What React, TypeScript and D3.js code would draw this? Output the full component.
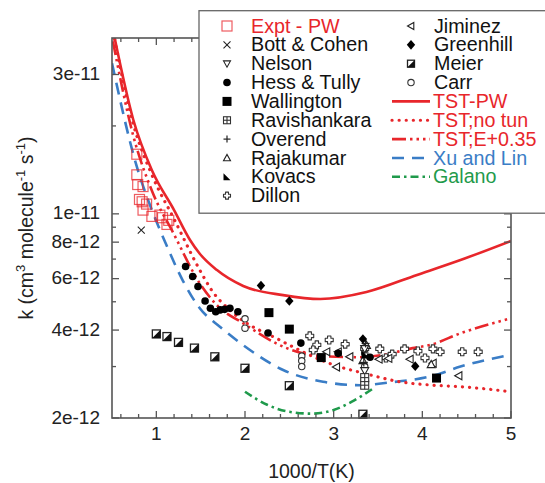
import React from 'react';
import * as d3 from 'd3';

const W = 545, H = 483;
const X0 = 112, X1 = 511, Y0 = 38, Y1 = 418;
const RED = '#e8262b';
const BLUE = '#3a7dc6';
const GREEN = '#1f9a4b';
const FONT = '"Liberation Sans", Arial, Helvetica, sans-serif';

// k values in units of 1e-12 cm3 molecule-1 s-1
const exptX = [0.78, 0.78, 0.79, 0.85, 0.81, 0.84, 0.89, 0.85, 0.95, 1.04, 1.07, 1.14, 1.12];
const exptK = [16.0, 13.6, 12.6, 12.4, 11.2, 11.0, 10.8, 10.3, 9.8, 9.9, 9.7, 9.5, 9.2];
const bottX = [0.83];
const bottK = [8.8];
const nelsonX = [3.35, 3.35];
const nelsonK = [3.45, 2.9];
const hessX = [1.33, 1.41, 1.47, 1.55, 1.61, 1.67, 1.72, 1.77, 1.83, 1.92, 2.26, 2.63, 3.05, 3.41];
const hessK = [6.6, 6.1, 5.64, 5.03, 4.75, 4.62, 4.69, 4.71, 4.75, 4.62, 3.91, 3.61, 3.33, 3.23];
const wallX = [2.27, 2.5, 2.86, 4.16];
const wallK = [4.59, 4.03, 3.22, 2.74];
const raviX = [3.35, 3.35];
const raviK = [2.59, 2.75];
const overX = [3.36, 3.34];
const overK = [3.6, 3.1];
const rajaX = [3.33, 3.37, 4.1];
const rajaK = [3.15, 3.55, 3.05];
const kovX = [3.36];
const kovK = [3.3];
const dillonX = [2.73, 2.81, 2.77, 2.95, 3.13, 3.35, 3.52, 3.59, 3.66, 3.8, 3.95, 4.03, 4.12, 4.2, 4.45, 4.63];
const dillonK = [3.82, 3.56, 3.42, 3.7, 3.58, 3.45, 3.45, 3.21, 3.31, 3.45, 3.39, 3.21, 3.45, 3.37, 3.37, 3.37];
const jimX = [2.92, 3.05, 3.18, 3.03, 3.51, 3.62, 3.86, 4.12, 4.41];
const jimK = [3.37, 3.37, 3.24, 2.99, 3.18, 3.2, 3.18, 3.08, 2.79];
const greenX = [2.18, 2.5, 3.33, 3.92];
const greenK = [5.68, 5.03, 3.73, 3.01];
const meierX = [1.0, 1.12, 1.25, 1.43, 1.66, 2.0, 2.5, 3.33];
const meierK = [3.88, 3.8, 3.63, 3.47, 3.24, 2.96, 2.58, 2.06];
const carrX = [2.0, 2.0, 2.64, 2.64, 2.64, 3.35, 3.35, 3.35, 3.35];
const carrK = [4.37, 4.06, 3.26, 3.14, 3.0, 3.34, 3.0, 2.77, 2.64];

// model curves
const tstX = [0.53, 0.74, 0.95, 1.2, 1.38, 1.49, 1.68, 1.98, 2.43, 2.85, 3.37, 3.94, 4.43, 5.0];
const tstK = [40, 21, 14.1, 10.3, 8.14, 7.3, 6.43, 5.66, 5.27, 5.11, 5.4, 6.18, 6.95, 8.08];
const notunX = [0.53, 0.74, 0.95, 1.2, 1.51, 1.62, 1.87, 2.39, 3.0, 3.37, 3.75, 4.12, 4.43, 5.0];
const notunK = [39.5, 20.3, 13.6, 9.6, 6.26, 5.5, 4.57, 3.7, 3.04, 2.83, 2.66, 2.59, 2.56, 2.46];
const e035X = [0.51, 0.74, 0.95, 1.2, 1.49, 1.68, 1.98, 2.47, 2.85, 3.3, 3.56, 3.89, 4.09, 4.43, 5.0];
const e035K = [39, 18.5, 12.0, 8.5, 5.78, 4.88, 4.22, 3.47, 3.26, 3.23, 3.29, 3.47, 3.56, 3.9, 4.39];
const xuX = [0.5, 0.78, 0.95, 1.1, 1.3, 1.49, 1.72, 1.98, 2.43, 2.88, 3.3, 3.6, 4.12, 4.43, 5.0];
const xuK = [32.8, 14.5, 10.3, 8.0, 5.9, 4.75, 4.1, 3.55, 2.92, 2.66, 2.59, 2.64, 2.79, 3.0, 3.29];
const galX = [2.0, 2.25, 2.5, 2.75, 3.0, 3.2, 3.45];
const galK = [2.46, 2.22, 2.1, 2.07, 2.13, 2.27, 2.53];

const xTicks = [1, 2, 3, 4, 5];
const xTickLabels = ['1', '2', '3', '4', '5'];
const yTicks = [2, 4, 6, 8, 10, 30];
const yTickLabels = ['2e-12', '4e-12', '6e-12', '8e-12', '1e-11', '3e-11'];
const yMinor = [3, 5, 7, 9, 20];

const x = d3.scaleLinear().domain([0.5, 5]).range([X0, X1]);
const y = d3.scaleLog().domain([2, 40]).range([Y1, Y0]);

type MType = 'expt' | 'x' | 'tdown' | 'circle' | 'square' | 'sqplus' | 'plus' | 'tup' | 'kovacs' | 'dillon' | 'tleft' | 'diamond' | 'meier' | 'ocircle';

function marker(type: MType, cx: number, cy: number, key: string, s = 8) {
  const h = s / 2;
  const sw = 1.1;
  switch (type) {
    case 'expt':
      return <rect key={key} x={cx - 5} y={cy - 5} width={10} height={10} fill="none" stroke={RED} strokeOpacity={0.75} strokeWidth={1.2} />;
    case 'x':
      return <g key={key} stroke="#222" strokeWidth={1.1}>
        <line x1={cx - 3.5} y1={cy - 3.5} x2={cx + 3.5} y2={cy + 3.5} />
        <line x1={cx - 3.5} y1={cy + 3.5} x2={cx + 3.5} y2={cy - 3.5} />
      </g>;
    case 'tdown':
      return <polygon key={key} points={`${cx - h},${cy - h * 0.8} ${cx + h},${cy - h * 0.8} ${cx},${cy + h}`} fill="#fff" stroke="#222" strokeWidth={sw} />;
    case 'tup':
      return <polygon key={key} points={`${cx - h},${cy + h * 0.8} ${cx + h},${cy + h * 0.8} ${cx},${cy - h}`} fill="#fff" stroke="#222" strokeWidth={sw} />;
    case 'tleft':
      return <polygon key={key} points={`${cx + h * 0.8},${cy - h} ${cx + h * 0.8},${cy + h} ${cx - h},${cy}`} fill="#fff" stroke="#222" strokeWidth={sw} />;
    case 'circle':
      return <circle key={key} cx={cx} cy={cy} r={3.8} fill="#000" />;
    case 'ocircle':
      return <circle key={key} cx={cx} cy={cy} r={3.2} fill="#fff" stroke="#333" strokeWidth={sw} />;
    case 'square':
      return <rect key={key} x={cx - 4.5} y={cy - 4.5} width={9} height={9} fill="#000" />;
    case 'sqplus':
      return <g key={key} stroke="#333" strokeWidth={sw} fill="#fff">
        <rect x={cx - h} y={cy - h} width={s} height={s} />
        <line x1={cx - h} y1={cy} x2={cx + h} y2={cy} />
        <line x1={cx} y1={cy - h} x2={cx} y2={cy + h} />
      </g>;
    case 'plus':
      return <g key={key} stroke="#222" strokeWidth={1.2}>
        <line x1={cx - h} y1={cy} x2={cx + h} y2={cy} />
        <line x1={cx} y1={cy - h} x2={cx} y2={cy + h} />
      </g>;
    case 'kovacs':
      return <polygon key={key} points={`${cx - h},${cy - h} ${cx - h},${cy + h} ${cx + h},${cy + h}`} fill="#000" />;
    case 'dillon': {
      const a = h * 0.42;
      const pts = [
        [-a, -h], [a, -h], [a, -a], [h, -a], [h, a], [a, a], [a, h], [-a, h], [-a, a], [-h, a], [-h, -a], [-a, -a],
      ].map(p => `${cx + p[0]},${cy + p[1]}`).join(' ');
      return <polygon key={key} points={pts} fill="#fff" stroke="#333" strokeWidth={sw} strokeLinejoin="round" />;
    }
    case 'diamond':
      return <polygon key={key} points={`${cx},${cy - 4.8} ${cx + 4.2},${cy} ${cx},${cy + 4.8} ${cx - 4.2},${cy}`} fill="#000" />;
    case 'meier':
      return <g key={key}>
        <rect x={cx - h} y={cy - h} width={s} height={s} fill="#fff" stroke="#222" strokeWidth={1.3} />
        <polygon points={`${cx + h},${cy - h} ${cx + h},${cy + h} ${cx - h},${cy + h}`} fill="#111" />
      </g>;
  }
  return null;
}

const pointSets: { name: string; type: MType; xs: number[]; ks: number[] }[] = [
  { name: 'meier', type: 'meier', xs: meierX, ks: meierK },
  { name: 'carr', type: 'ocircle', xs: carrX, ks: carrK },
  { name: 'dillon', type: 'dillon', xs: dillonX, ks: dillonK },
  { name: 'jim', type: 'tleft', xs: jimX, ks: jimK },
  { name: 'raja', type: 'tup', xs: rajaX, ks: rajaK },
  { name: 'nelson', type: 'tdown', xs: nelsonX, ks: nelsonK },
  { name: 'over', type: 'plus', xs: overX, ks: overK },
  { name: 'ravi', type: 'sqplus', xs: raviX, ks: raviK },
  { name: 'kov', type: 'kovacs', xs: kovX, ks: kovK },
  { name: 'hess', type: 'circle', xs: hessX, ks: hessK },
  { name: 'wall', type: 'square', xs: wallX, ks: wallK },
  { name: 'green', type: 'diamond', xs: greenX, ks: greenK },
  { name: 'bott', type: 'x', xs: bottX, ks: bottK },
  { name: 'expt', type: 'expt', xs: exptX, ks: exptK },
];

const lineGen = d3.line<[number, number]>()
  .x(d => x(d[0]))
  .y(d => y(d[1]))
  .curve(d3.curveMonotoneX);

const curves = [
  { name: 'xu', xs: xuX, ks: xuK, color: BLUE, dash: '12,8', w: 2.6, cap: 'butt' },
  { name: 'gal', xs: galX, ks: galK, color: GREEN, dash: '8,4,2.5,4', w: 2.6, cap: 'butt' },
  { name: 'notun', xs: notunX, ks: notunK, color: RED, dash: '0.1,7', w: 3.2, cap: 'round' },
  { name: 'e035', xs: e035X, ks: e035K, color: RED, dash: '14,4,2.5,4,2.5,4,2.5,4', w: 2.6, cap: 'butt' },
  { name: 'tst', xs: tstX, ks: tstK, color: RED, dash: 'none', w: 2.6, cap: 'butt' },
];

const legendCol1: { label: string; type: MType; color: string }[] = [
  { label: 'Expt - PW', type: 'expt', color: RED },
  { label: 'Bott & Cohen', type: 'x', color: '#111' },
  { label: 'Nelson', type: 'tdown', color: '#111' },
  { label: 'Hess & Tully', type: 'circle', color: '#111' },
  { label: 'Wallington', type: 'square', color: '#111' },
  { label: 'Ravishankara', type: 'sqplus', color: '#111' },
  { label: 'Overend', type: 'plus', color: '#111' },
  { label: 'Rajakumar', type: 'tup', color: '#111' },
  { label: 'Kovacs', type: 'kovacs', color: '#111' },
  { label: 'Dillon', type: 'dillon', color: '#111' },
];
const legendCol2Markers: { label: string; type: MType }[] = [
  { label: 'Jiminez', type: 'tleft' },
  { label: 'Greenhill', type: 'diamond' },
  { label: 'Meier', type: 'meier' },
  { label: 'Carr', type: 'ocircle' },
];
const legendCol2Lines = [
  { label: 'TST-PW', curve: 'tst', color: RED },
  { label: 'TST;no tun', curve: 'notun', color: RED },
  { label: 'TST;E+0.35', curve: 'e035', color: RED },
  { label: 'Xu and Lin', curve: 'xu', color: BLUE },
  { label: 'Galano', curve: 'gal', color: GREEN },
];

export default function App() {
  const xMinor = d3.range(0.6, 5.0001, 0.2).filter(v => Math.abs(v - Math.round(v)) > 1e-6);
  const rowY = (i: number) => 26 + i * 18.85;
  const axisColor = '#555';
  return (
    <svg width={W} height={H} style={{ display: 'block', position: 'absolute', left: 0, top: 0 }} fontFamily={FONT}>
      <rect x={0} y={0} width={W} height={H} fill="#fff" />
      <defs>
        <clipPath id="plotclip"><rect x={X0} y={Y0} width={X1 - X0} height={Y1 - Y0} /></clipPath>
      </defs>
      {/* curves */}
      <g clipPath="url(#plotclip)">
        {curves.map(c => (
          <path key={c.name} d={lineGen(c.xs.map((v, i) => [v, c.ks[i]] as [number, number])) || ''}
            fill="none" stroke={c.color} strokeWidth={c.w} strokeDasharray={c.dash}
            strokeLinecap={c.cap as any} />
        ))}
      </g>
      {/* points */}
      <g>
        {pointSets.map(ps => ps.xs.map((v, i) => marker(ps.type, x(v), y(ps.ks[i]), `${ps.name}${i}`)))}
      </g>
      {/* frame */}
      <rect x={X0} y={Y0} width={X1 - X0} height={Y1 - Y0} fill="none" stroke={axisColor} strokeWidth={1.6} />
      {/* ticks */}
      <g stroke={axisColor} strokeWidth={1.3}>
        {xTicks.map(t => <g key={'xt' + t}>
          <line x1={x(t)} x2={x(t)} y1={Y1} y2={Y1 - 7} />
          <line x1={x(t)} x2={x(t)} y1={Y0} y2={Y0 + 7} />
        </g>)}
        {xMinor.map(t => <g key={'xm' + t}>
          <line x1={x(t)} x2={x(t)} y1={Y1} y2={Y1 - 4} />
          <line x1={x(t)} x2={x(t)} y1={Y0} y2={Y0 + 4} />
        </g>)}
        {yTicks.map(t => <g key={'yt' + t}>
          <line x1={X0} x2={X0 + 7} y1={y(t)} y2={y(t)} />
          <line x1={X1} x2={X1 - 7} y1={y(t)} y2={y(t)} />
        </g>)}
        {yMinor.map(t => <g key={'ym' + t}>
          <line x1={X0} x2={X0 + 4} y1={y(t)} y2={y(t)} />
          <line x1={X1} x2={X1 - 4} y1={y(t)} y2={y(t)} />
        </g>)}
      </g>
      <g fill="#222" fontSize={19}>
        {xTicks.map((t, i) => <text key={'xl' + t} x={x(t)} y={439.5} textAnchor="middle">{xTickLabels[i]}</text>)}
        {yTicks.map((t, i) => <text key={'yl' + t} x={100} y={y(t) + 5.5} textAnchor="end">{yTickLabels[i]}</text>)}
        <text x={311.5} y={478} textAnchor="middle" fontSize={19.5}>1000/T(K)</text>
        <text transform={`translate(33,228) rotate(-90)`} textAnchor="middle" fontSize={19.5}>
          k (cm<tspan fontSize={13} dy={-8}>3</tspan>
          <tspan dy={8}> molecule</tspan><tspan fontSize={13} dy={-8}>-1</tspan>
          <tspan dy={8}> s</tspan><tspan fontSize={13} dy={-8}>-1</tspan><tspan dy={8}>)</tspan>
        </text>
      </g>
      {/* legend */}
      <rect x={199} y={10.7} width={360} height={202.5} fill="#fff" stroke="#666" strokeWidth={1.3} />
      <g fontSize={19.7}>
        {legendCol1.map((e, i) => <g key={'l1' + i}>
          {marker(e.type, 227, rowY(i), 'lm1' + i, 7)}
          <text x={251} y={rowY(i) + 6.6} fill={e.color}>{e.label}</text>
        </g>)}
        {legendCol2Markers.map((e, i) => <g key={'l2' + i}>
          {marker(e.type, 411, rowY(i), 'lm2' + i, 7)}
          <text x={434} y={rowY(i) + 6.6} fill="#111">{e.label}</text>
        </g>)}
        {legendCol2Lines.map((e, j) => {
          const i = j + 4;
          const c = curves.find(cc => cc.name === e.curve)!;
          return <g key={'l3' + j}>
            <line x1={392} x2={430} y1={rowY(i)} y2={rowY(i)} stroke={c.color} strokeWidth={c.w}
              strokeDasharray={c.dash} strokeLinecap={c.cap as any} />
            <text x={433} y={rowY(i) + 6.6} fill={e.color}>{e.label}</text>
          </g>;
        })}
      </g>
    </svg>
  );
}
